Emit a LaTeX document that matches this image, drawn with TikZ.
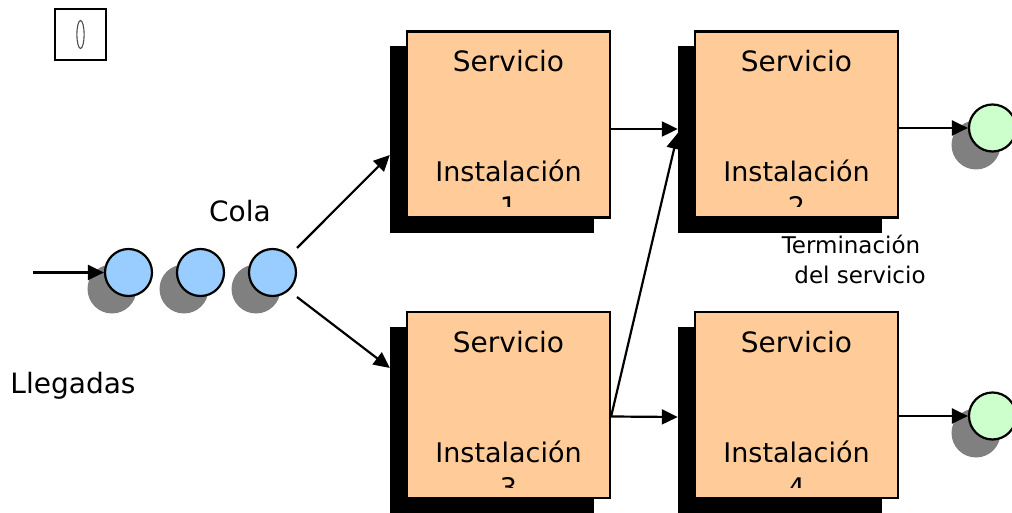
\documentclass[tikz,border=0pt]{standalone}
\usepackage{fontspec}
\setmainfont{DejaVu Sans}
\usetikzlibrary{arrows.meta,calc}
\definecolor{orangebox}{HTML}{FFCC99}
\definecolor{bluec}{HTML}{99CCFF}
\definecolor{greenc}{HTML}{CCFFCC}
\definecolor{shadowgray}{HTML}{808080}
\tikzset{
  svcbox/.style={draw=black,line width=2.2pt,fill=orangebox,minimum width=203pt,minimum height=186pt,inner sep=0pt},
  svcshadow/.style={fill=black,minimum width=204pt,minimum height=187pt,inner sep=0pt},
  qcirc/.style={circle,draw=black,line width=2.2pt,fill=bluec,minimum size=47pt,inner sep=0pt},
  endcirc/.style={circle,draw=black,line width=2.2pt,fill=greenc,minimum size=47pt,inner sep=0pt},
  cshadow/.style={circle,fill=shadowgray,minimum size=49pt,inner sep=0pt},
  lbl/.style={font=\fontsize{28}{30}\selectfont,anchor=base,inner sep=0pt},
  ilbl/.style={font=\fontsize{27}{30}\selectfont,anchor=base,inner sep=0pt},
  smalllbl/.style={font=\fontsize{23}{26}\selectfont,anchor=base,inner sep=0pt},
  conn/.style={line width=2.2pt,-{Triangle[length=16pt,width=15pt]}},
}
\begin{document}
\begin{tikzpicture}[x=1pt,y=-1pt]
\useasboundingbox (0,0) rectangle (1012,513);
% little box top-left
\node[draw=black,line width=1.8pt,minimum width=51pt,minimum height=51pt,inner sep=0pt] (tl) at (80.5,34.5) {};
\draw[gray!60!black,line width=1.1pt] (tl.center) ellipse [x radius=3.6pt,y radius=14pt];
% shadows
\node[svcshadow] (s1) at (492,140) {};
\node[svcshadow] (s2) at (780,140) {};
\node[svcshadow] (s3) at (492,420) {};
\node[svcshadow] (s4) at (780,420) {};
% boxes
\node[svcbox] (b1) at (508.5,124.5) {};
\node[svcbox] (b2) at (796.5,124.5) {};
\node[svcbox] (b3) at (508.5,405) {};
\node[svcbox] (b4) at (796.5,405) {};
% box texts
\foreach \b/\n in {b1/1,b2/2,b3/3,b4/4}{
  \node[lbl] (\b s) at ($(\b.center)+(0,-52.5)$) {Servicio};
  \node[ilbl] (\b i) at ($(\b.center)+(0,57.5)$) {Instalación};
  \begin{scope}
    \clip ($(\b.center)+(-100,60)$) rectangle ($(\b.center)+(100,82.5)$);
    \node[ilbl] (\b n) at ($(\b.center)+(0,92)$) {\n};
  \end{scope}
}
% queue circles
\node[cshadow] (q1s) at (112,289) {};
\node[cshadow] (q2s) at (184,289) {};
\node[cshadow] (q3s) at (256,289) {};
\node[qcirc] (q1) at (128.5,272.5) {};
\node[qcirc] (q2) at (200.5,272.5) {};
\node[qcirc] (q3) at (272.5,272.5) {};
% end circles
\node[cshadow] (e1s) at (976,145) {};
\node[cshadow] (e2s) at (976,433) {};
\node[endcirc] (e1) at (992.5,128) {};
\node[endcirc] (e2) at (992.5,416) {};
% labels
\node[lbl] (cola) at (240,222) {Cola};
\node[lbl] (lleg) at (73,393) {Llegadas};
\node[smalllbl] (term1) at (851,253) {Terminación};
\node[smalllbl] (term2) at (860,283) {del servicio};
% coordinates for connectors
\coordinate (in) at (33,272.5);
\coordinate (q3ne) at ($(q3.center)+(24.5,-24.5)$);
\coordinate (q3se) at ($(q3.center)+(24.5,24.5)$);
\coordinate (t1) at ($(s1.west)+(0,15)$);
\coordinate (t3) at ($(s3.west)+(0,-52)$);
\coordinate (b1o) at ($(b1.east)+(0,4.5)$);
\coordinate (b2i) at ($(s2.west)+(0,-11)$);
\coordinate (b3o) at ($(b3.east)+(0,11.5)$);
\coordinate (b2j) at ($(s2.west)+(0,-7)$);
\coordinate (b4i) at ($(s4.west)+(0,-3)$);
\coordinate (b2o) at ($(b2.east)+(0,3.5)$);
\coordinate (b4o) at ($(b4.east)+(0,11)$);
% connectors
\draw[conn] (in) -- (q1.west);
\draw[conn] (q3ne) -- (t1);
\draw[conn] (q3se) -- (t3);
\draw[conn] (b1o) -- (b2i);
\draw[conn] (b3o) -- (b2j);
\draw[conn] (b3o) -- (b4i);
\draw[conn] (b2o) -- (e1.west);
\draw[conn] (b4o) -- (e2.west);
\end{tikzpicture}
\end{document}
